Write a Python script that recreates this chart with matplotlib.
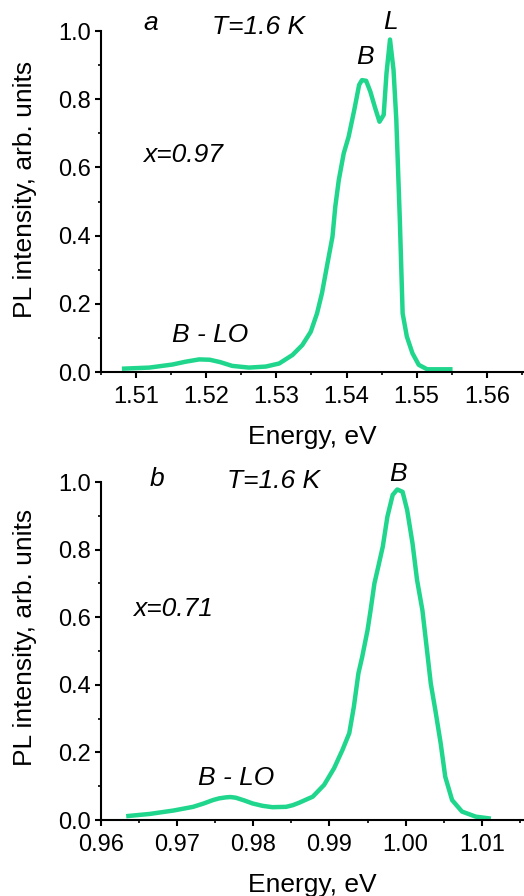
import numpy as np
import matplotlib
matplotlib.use("Agg")
import matplotlib.pyplot as plt
from matplotlib.ticker import MultipleLocator

plt.rcParams['font.family'] = ['Liberation Sans', 'DejaVu Sans']

# panel a, x = 0.97
energy_a = [1.5083, 1.5119, 1.5152, 1.5170, 1.5190, 1.5205, 1.5220, 1.5237, 1.5261,
            1.5285, 1.5304, 1.5323, 1.5337, 1.5349, 1.5358, 1.5365, 1.5372, 1.5380,
            1.5384, 1.5389, 1.5396, 1.5403, 1.5411, 1.5418, 1.5422, 1.5428, 1.5434,
            1.5441, 1.5447, 1.5453, 1.5457, 1.5462, 1.5467, 1.5471, 1.5476, 1.5480,
            1.5486, 1.5494, 1.5503, 1.5515, 1.5548]
pl_a = [0.010, 0.013, 0.022, 0.030, 0.037, 0.036, 0.029, 0.018, 0.013,
        0.016, 0.025, 0.050, 0.079, 0.118, 0.172, 0.231, 0.309, 0.397,
        0.485, 0.563, 0.641, 0.690, 0.768, 0.842, 0.856, 0.854, 0.822,
        0.773, 0.734, 0.754, 0.876, 0.975, 0.886, 0.739, 0.446, 0.172,
        0.104, 0.055, 0.021, 0.008, 0.008]

# panel b, x = 0.71
energy_b = [0.9636, 0.9664, 0.9695, 0.9721, 0.9735, 0.9747, 0.9755, 0.9764, 0.9770,
            0.9777, 0.9788, 0.9799, 0.9812, 0.9825, 0.9843, 0.9852, 0.9860, 0.9878,
            0.9893, 0.9906, 0.9917, 0.9926, 0.9932, 0.9938, 0.9943, 0.9950, 0.9954,
            0.9959, 0.9964, 0.9970, 0.9976, 0.9983, 0.9989, 0.9996, 1.0002, 1.0009,
            1.0015, 1.0022, 1.0028, 1.0033, 1.0039, 1.0046, 1.0052, 1.0061, 1.0074,
            1.0092, 1.0109]
pl_b = [0.012, 0.018, 0.028, 0.039, 0.049, 0.059, 0.064, 0.067, 0.068,
        0.066, 0.058, 0.049, 0.042, 0.038, 0.039, 0.044, 0.051, 0.069,
        0.104, 0.153, 0.207, 0.257, 0.335, 0.434, 0.483, 0.562, 0.621,
        0.700, 0.749, 0.809, 0.897, 0.962, 0.978, 0.971, 0.917, 0.819,
        0.710, 0.621, 0.503, 0.404, 0.325, 0.227, 0.128, 0.059, 0.025,
        0.010, 0.005]

green = '#1fd68c'
fs_tick = 17
fs_text = 19

fig = plt.figure(figsize=(5.24, 8.96), dpi=100)
ax1 = fig.add_axes([0.1927, 0.5848, 0.8073, 0.3806])
ax2 = fig.add_axes([0.1927, 0.0848, 0.8073, 0.3772])


def style(ax, xmin, xmax, xmaj):
    ax.set_xlim(xmin, xmax)
    ax.set_ylim(0, 1.0)
    for s in ['top', 'right']:
        ax.spines[s].set_visible(False)
    for s in ['left', 'bottom']:
        ax.spines[s].set_linewidth(1.5)
    ax.xaxis.set_major_locator(MultipleLocator(xmaj))
    ax.xaxis.set_minor_locator(MultipleLocator(xmaj / 2))
    ax.yaxis.set_major_locator(MultipleLocator(0.2))
    ax.yaxis.set_minor_locator(MultipleLocator(0.1))
    ax.xaxis.set_major_formatter(plt.FormatStrFormatter('%.2f'))
    ax.yaxis.set_major_formatter(plt.FormatStrFormatter('%.1f'))
    ax.tick_params(which='major', direction='out', length=4, width=1.5, labelsize=fs_tick)
    ax.tick_params(which='minor', direction='out', length=2.5, width=1.2)
    ax.tick_params(axis='x', pad=6)
    ax.tick_params(axis='y', pad=3)
    ax.set_xlabel('Energy, eV', fontsize=fs_text, labelpad=12)
    ax.set_ylabel('PL intensity, arb. units', fontsize=fs_text)


# panel a
ax1.plot(energy_a, pl_a, color=green, lw=3.2, solid_joinstyle='round')
style(ax1, 1.505, 1.5653, 0.01)
ax1.yaxis.set_label_coords(-0.151, 0.535)
ax1.text(1.5121, 1.003, 'a', style='italic', fontsize=fs_text, ha='center', va='baseline')
ax1.text(1.5208, 0.991, 'T=1.6 K', style='italic', fontsize=fs_text, ha='left', va='baseline')
ax1.text(1.5426, 0.903, 'B', style='italic', fontsize=fs_text, ha='center', va='baseline')
ax1.text(1.5462, 1.006, 'L', style='italic', fontsize=fs_text, ha='center', va='baseline')
ax1.text(1.5110, 0.616, 'x=0.97', style='italic', fontsize=fs_text, ha='left', va='baseline')
ax1.text(1.5151, 0.088, 'B - LO', style='italic', fontsize=fs_text, ha='left', va='baseline')

# panel b
ax2.plot(energy_b, pl_b, color=green, lw=3.2, solid_joinstyle='round')
style(ax2, 0.96, 1.01554, 0.01)
ax2.yaxis.set_label_coords(-0.151, 0.54)
ax2.text(0.9673, 0.988, 'b', style='italic', fontsize=fs_text, ha='center', va='baseline')
ax2.text(0.9765, 0.982, 'T=1.6 K', style='italic', fontsize=fs_text, ha='left', va='baseline')
ax2.text(0.9990, 1.003, 'B', style='italic', fontsize=fs_text, ha='center', va='baseline')
ax2.text(0.9642, 0.604, 'x=0.71', style='italic', fontsize=fs_text, ha='left', va='baseline')
ax2.text(0.9728, 0.104, 'B - LO', style='italic', fontsize=fs_text, ha='left', va='baseline')

fig.savefig('out.png', dpi=100)
